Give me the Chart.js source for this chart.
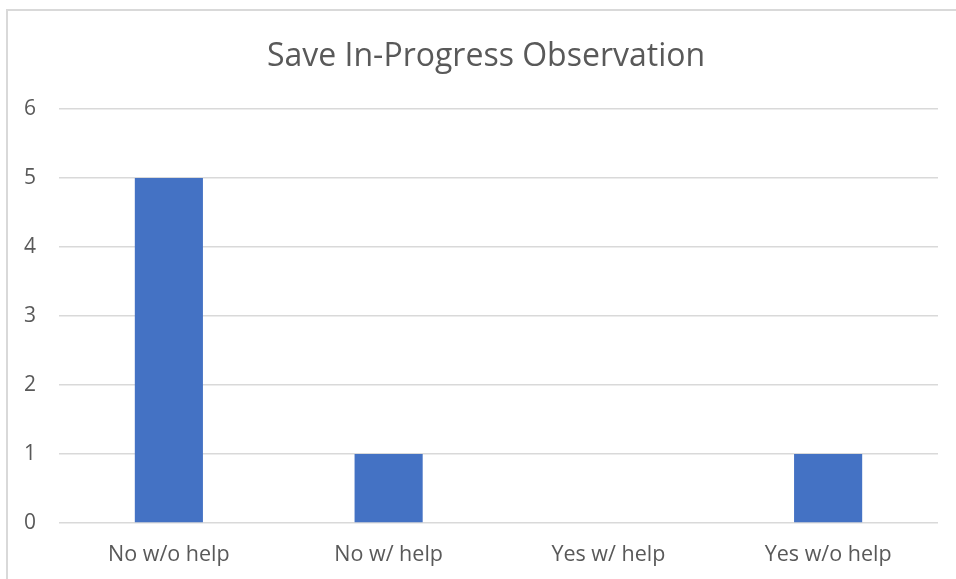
<!DOCTYPE html>
<html>
<head>
<meta charset="utf-8">
<script src="https://cdn.jsdelivr.net/npm/chart.js@4"></script>
<style>
  html, body { margin: 0; padding: 0; background: #fff; overflow: hidden; }
  #wrap { position: relative; width: 956px; height: 579px; }
  #frame {
    position: absolute; left: 6px; top: 9px; width: 1000px; height: 700px;
    border: 2px solid #d9d9d9; box-sizing: border-box;
  }
  canvas { position: absolute; left: 0; top: 0; }
</style>
</head>
<body>
<div id="wrap">
  <div id="frame"></div>
  <canvas id="chart" width="956" height="579"></canvas>
</div>
<script>
// --- Observation results ---
const categories = ["No w/o help", "No w/ help", "Yes w/ help", "Yes w/o help"];
const counts = [5, 1, 0, 1];
const yTicks = [0, 1, 2, 3, 4, 5, 6];
const titleText = "Save In-Progress Observation";

const textColor = "#595959";
const gridColor = "#d9d9d9";
const fontFamily = "'Open Sans', sans-serif";

// Title is centred on the outer frame rather than the plot area
const frameTitle = {
  id: "frameTitle",
  afterDraw(chart) {
    const c = chart.ctx;
    c.save();
    c.fillStyle = textColor;
    c.font = "32px " + fontFamily;
    c.textAlign = "center";
    c.textBaseline = "middle";
    c.fillText(titleText, 486, 57);
    c.restore();
  },
};

const ctx = document.getElementById("chart").getContext("2d");
new Chart(ctx, {
  type: "bar",
  data: {
    labels: categories,
    datasets: [{
      label: "Count",
      data: counts,
      backgroundColor: "#4472c4",
      categoryPercentage: 1,
      barPercentage: 0.31,
    }],
  },
  plugins: [frameTitle],
  options: {
    responsive: false,
    animation: false,
    layout: { padding: { left: 0, right: 18, top: 109, bottom: 0 } },
    plugins: {
      legend: { display: false },
      tooltip: { enabled: false },
      title: { display: false },
    },
    scales: {
      x: {
        grid: { display: false, drawTicks: false },
        border: { display: false },
        ticks: { color: textColor, font: { family: fontFamily, size: 21.5 }, padding: 19 },
        afterFit: (scale) => { scale.height = 56; },
      },
      y: {
        min: 0,
        max: 6,
        afterBuildTicks: (scale) => { scale.ticks = yTicks.map((v) => ({ value: v })); },
        grid: { color: gridColor, lineWidth: 1.5, drawTicks: false },
        border: { display: false },
        ticks: { color: textColor, font: { family: fontFamily, size: 21 }, padding: 23 },
        afterFit: (scale) => { scale.width = 59; },
      },
    },
  },
});
</script>
</body>
</html>
